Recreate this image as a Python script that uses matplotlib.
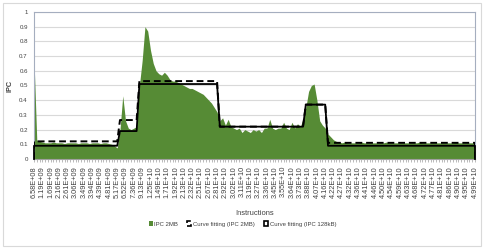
import numpy as np
import matplotlib
matplotlib.use("Agg")
import matplotlib.pyplot as plt
from matplotlib.patches import Rectangle, Patch

# Tick labels of the category axis (one every 3 samples)
x_labels = ["6.58E+08", "1.19E+09", "1.69E+09", "2.16E+09", "2.61E+09", "3.06E+09",
            "3.49E+09", "3.94E+09", "4.39E+09", "4.81E+09", "5.17E+09", "6.52E+09",
            "7.36E+09", "9.13E+09", "1.25E+10", "1.49E+10", "1.71E+10", "1.92E+10",
            "2.13E+10", "2.32E+10", "2.51E+10", "2.67E+10", "2.81E+10", "2.92E+10",
            "3.02E+10", "3.11E+10", "3.19E+10", "3.27E+10", "3.36E+10", "3.45E+10",
            "3.55E+10", "3.64E+10", "3.73E+10", "3.88E+10", "4.07E+10", "4.16E+10",
            "4.22E+10", "4.27E+10", "4.32E+10", "4.36E+10", "4.41E+10", "4.46E+10",
            "4.50E+10", "4.54E+10", "4.59E+10", "4.63E+10", "4.68E+10", "4.72E+10",
            "4.77E+10", "4.81E+10", "4.86E+10", "4.90E+10", "4.95E+10", "4.99E+10"]
LABEL_STEP = 3

# IPC 2MB, one value per sample (160 samples)
ipc_2mb = [
    0.68, 0.13, 0.12, 0.115, 0.11, 0.11, 0.11, 0.115, 0.11, 0.11,
    0.11, 0.105, 0.11, 0.11, 0.11, 0.11, 0.105, 0.11, 0.11, 0.11,
    0.105, 0.11, 0.11, 0.11, 0.105, 0.11, 0.11, 0.105, 0.1, 0.09,
    0.075, 0.2, 0.43, 0.26, 0.21, 0.2, 0.21, 0.22,
    0.5, 0.67, 0.9, 0.87, 0.74, 0.65, 0.6, 0.58, 0.57, 0.59,
    0.57, 0.54, 0.53, 0.53, 0.52, 0.51, 0.5, 0.49, 0.48, 0.48,
    0.47, 0.46, 0.45, 0.44, 0.42, 0.4, 0.38, 0.35, 0.32,
    0.26, 0.28, 0.23, 0.27, 0.22, 0.21, 0.2, 0.21, 0.18, 0.2,
    0.19, 0.18, 0.2, 0.19, 0.2, 0.18, 0.21, 0.21, 0.27, 0.21,
    0.2, 0.21, 0.21, 0.25, 0.21, 0.2, 0.25, 0.21, 0.24, 0.22,
    0.27,
    0.35, 0.46, 0.5, 0.51, 0.4, 0.26, 0.23, 0.21,
    0.17, 0.15, 0.13, 0.12, 0.115, 0.11, 0.115, 0.11, 0.11, 0.11,
    0.11, 0.11, 0.115, 0.11, 0.11, 0.11, 0.11, 0.11, 0.11, 0.11,
    0.11, 0.115, 0.11, 0.11, 0.11, 0.11, 0.11, 0.11, 0.11, 0.11,
    0.11, 0.11, 0.11, 0.115, 0.11, 0.11, 0.11, 0.11, 0.11, 0.11,
    0.11, 0.11, 0.11, 0.11, 0.11, 0.11, 0.115, 0.11, 0.11, 0.11,
    0.11, 0.11, 0.11, 0.11,
]

# Step fits: number of samples in each phase and the level of each phase
phase_lengths = [31, 7, 29, 31, 8, 54]
fit_2mb_levels = [0.12, 0.265, 0.53, 0.22, 0.37, 0.11]
fit_128kb_levels = [0.09, 0.19, 0.51, 0.22, 0.37, 0.09]

GREEN = "#568b35"
TEXT = "#404040"
DASH = (0, (3.5, 2))

plt.rcParams["font.family"] = ["Liberation Sans", "DejaVu Sans"]

x = np.arange(len(ipc_2mb))
fit_2mb = np.repeat(fit_2mb_levels, phase_lengths)
fit_128kb = np.repeat(fit_128kb_levels, phase_lengths)

fig = plt.figure(figsize=(4.84, 2.49), dpi=100)
fig.patches.append(Rectangle((0.006, 0.012), 0.987, 0.976, transform=fig.transFigure,
                             fill=False, edgecolor="#d9d9d9", linewidth=0.8))
ax = fig.add_axes([34 / 484, 1 - 159 / 249, 441 / 484, 147 / 249])

ax.fill_between(x, ipc_2mb, color=GREEN, linewidth=0, zorder=2)

# outline of the fit areas (no bottom edge)
x_edge = np.concatenate([[x[0]], x, [x[-1]]])
ax.plot(x_edge, np.concatenate([[0], fit_2mb, [0]]), color="black", linewidth=1.4,
        linestyle=DASH, zorder=3)
ax.plot(x_edge, np.concatenate([[0], fit_128kb, [0]]), color="black", linewidth=1.3,
        zorder=4, clip_on=False)

ax.set_xlim(0, len(ipc_2mb) - 1)
ax.set_ylim(0, 1)
ax.set_yticks(np.arange(0, 1.01, 0.1))
ax.set_yticklabels(["0", "0.1", "0.2", "0.3", "0.4", "0.5", "0.6", "0.7", "0.8", "0.9", "1"])
ax.grid(axis="y", color="#d9d9d9", linewidth=0.8, zorder=0)
ax.set_axisbelow(True)

ax.set_xticks(x[::LABEL_STEP])
ax.set_xticklabels(x_labels, rotation=90)
ax.set_xticks(x, minor=True)
ax.tick_params(axis="x", which="both", length=2, color="#a0a0a0", width=0.5,
               labelsize=5.3, labelcolor=TEXT, pad=3)
ax.tick_params(axis="y", length=0, labelsize=4.4, labelcolor=TEXT, pad=4.5)

for side in ["left", "right", "top", "bottom"]:
    ax.spines[side].set_color("#a5aebf")
    ax.spines[side].set_linewidth(0.8)
ax.spines["bottom"].set_color("#a0a0a0")

ax.set_ylabel("IPC", fontsize=5.3, color=TEXT, fontweight="bold")
ax.yaxis.set_label_coords(-0.047, 0.5)
ax.set_xlabel("Instructions", fontsize=5.4, color=TEXT)
ax.xaxis.set_label_coords(0.5, -0.347)

handles = [Patch(facecolor=GREEN, edgecolor="none"),
           Patch(facecolor="none", edgecolor="black", linewidth=1.2, linestyle=DASH),
           Patch(facecolor="none", edgecolor="black", linewidth=1.2)]
labels = ["IPC 2MB", "Curve fitting (IPC 2MB)", "Curve fitting (IPC 128kB)"]
fig.legend(handles, labels, loc="center", bbox_to_anchor=(0.501, 0.1), ncol=3,
           frameon=False, fontsize=4.3, labelcolor=TEXT, handlelength=0.7,
           handleheight=0.8, handletextpad=0.3, columnspacing=1.5)

fig.savefig("out.png", dpi=100)
